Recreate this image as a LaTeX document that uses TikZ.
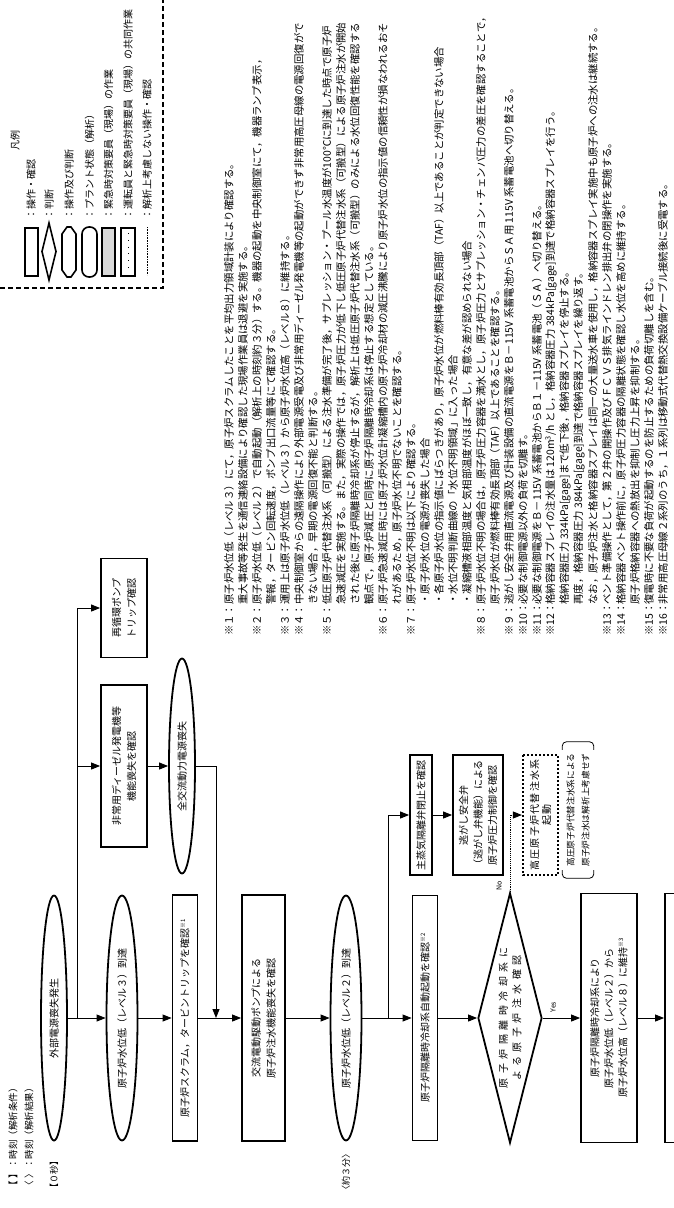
\documentclass[tikz,border=0pt]{standalone}
\usepackage{fontspec}
\setmainfont{Noto Sans CJK JP}
\newfontfamily\widejp[LetterSpace=45]{Noto Sans CJK JP}
\newfontfamily\spacedjp[LetterSpace=13]{Noto Sans CJK JP}
\usetikzlibrary{shapes.geometric,arrows.meta,calc}

\newcommand{\nt}[1]{\makebox[3em][l]{#1}}
\newcommand{\ind}{\hspace*{3em}}
\newcommand{\kome}[1]{\textsuperscript{\fontsize{6}{6}\selectfont ※#1}}

\begin{document}
\begin{tikzpicture}[x=1pt, y=-1pt, >={Triangle[length=9pt, width=7pt]},
    every node/.style={rotate=90, font=\fontsize{10}{15}\selectfont}]
  \tikzstyle{opbox}=[rectangle, draw, line width=1.8pt, align=center, inner sep=1pt]
  \tikzstyle{state}=[ellipse, draw, line width=1.8pt, align=center, inner sep=0pt]
  \tikzstyle{judge}=[diamond, draw, line width=1.8pt, align=center, aspect=3.9, inner sep=1pt]
  \tikzstyle{skipbox}=[rectangle, draw, line width=2.2pt, dash pattern=on 2.2pt off 1.8pt, align=center]
  \tikzstyle{flow}=[->, line width=0.9pt]
  \tikzstyle{tag}=[anchor=west, inner sep=0pt]
  \tikzstyle{note}=[anchor=west, inner sep=0pt, font=\fontsize{10.4}{14}\selectfont]
  \useasboundingbox (0,0) rectangle (674,1208);
  \clip (0,0) rectangle (674,1208);

  % legend
  \draw[line width=1.2pt, dash pattern=on 5pt off 3pt] (0,288) -- (163,288) -- (163,0);
  \node (lg) at (15,140) {凡例};
  \draw[line width=1.6pt] (25,228) rectangle (38,276);
  \draw[line width=1.6pt] (49,223) -- (56,251.5) -- (49,280) -- (42,251.5) -- cycle;
  \draw[line width=1.6pt] (62,234) -- (67,227) -- (71,227) -- (76,234) -- (76,270) -- (71,277) -- (67,277) -- (62,270) -- cycle;
  \draw[line width=1.6pt, rounded corners=7pt] (82,227) rectangle (97,277);
  \draw[line width=1.6pt, fill=gray!30] (102,228) rectangle (115,276);
  \draw[line width=1.6pt] (121,228) rectangle (135,276);
  \draw[line width=0.6pt, dash pattern=on 0.8pt off 6pt] (128,233) -- (128,272);
  \draw[line width=0.6pt, densely dotted] (147,227) -- (147,275);
  \foreach \x/\t [count=\i] in {31/{：操作・確認}, 49/{：判断}, 69/{：操作及び判断},
      89.5/{：プラント状態（解析）}, 108.5/{：緊急時対策要員（現場）の作業},
      128/{：運転員と緊急時対策要員（現場）の共同作業}, 147/{：解析上考慮しない操作・確認}}{
    \node[tag] (lg\i) at (\x,220) {\t};
  }

  % time marks
  \node[tag, font=\fontsize{9.5}{12}\selectfont] (tl1) at (13,1191) {【\,\,】：時刻（解析条件）};
  \node[tag, font=\fontsize{9.5}{12}\selectfont] (tl2) at (29,1191) {〈\,\,〉：時刻（解析結果）};
  \node[tag, font=\fontsize{9}{12}\selectfont] (t0) at (54,1193) {【０秒】};
  \node[tag, font=\fontsize{9}{12}\selectfont] (t3) at (346,1195) {〈約３分〉};

  % main sequence
  \node[state, minimum width=245pt, minimum height=26pt] (e1) at (54,1018) {外部電源喪失発生};
  \node[state, minimum width=245pt, minimum height=31pt] (e2) at (122,1018) {原子炉水位低（レベル３）到達};
  \node[opbox, minimum width=246pt, minimum height=25pt] (b1) at (185,1018) {原子炉スクラム，タービントリップを確認\kome{1}};
  \node[opbox, minimum width=246pt, minimum height=43pt] (b2) at (263.5,1018) {交流電動駆動ポンプによる\\原子炉注水機能喪失を確認};
  \node[state, minimum width=245pt, minimum height=31pt] (e3) at (346,1018) {原子炉水位低（レベル２）到達};
  \node[opbox, minimum width=245pt, minimum height=25pt] (b3) at (425,1018) {原子炉隔離時冷却系自動起動を確認\kome{2}};
  \node[judge, minimum width=250pt, minimum height=64pt, font=\widejp\fontsize{10}{13.5}\selectfont] (d) at (510,1018) {原子炉隔離時冷却系に\\よる原子炉注水確認};
  \node[opbox, minimum width=249pt, minimum height=56pt, font=\fontsize{10}{14}\selectfont] (b4) at (609,1018) {原子炉隔離時冷却系により\\原子炉水位低（レベル２）から\\原子炉水位高（レベル８）に維持\kome{3}};
  \node[opbox, minimum width=249pt, minimum height=56pt] (b5) at (693,1018) {};

  % branch after loss of offsite power
  \node[opbox, minimum width=99pt, minimum height=46pt] (r1) at (124,608) {再循環ポンプ\\トリップ確認};
  \node[opbox, minimum width=162pt, minimum height=46pt] (r2) at (124,766) {非常用ディーゼル発電機等\\機能喪失を確認};
  \node[state, minimum width=215pt, minimum height=26pt] (e4) at (182,766) {全交流動力電源喪失};

  % branch after level 2
  \node[opbox, minimum width=120pt, minimum height=22pt] (m1) at (421,815) {主蒸気隔離弁閉止を確認};
  \node[opbox, minimum width=120pt, minimum height=50pt, font=\fontsize{10}{14.5}\selectfont] (m2) at (478,815) {逃がし安全弁\\（逃がし弁機能）による\\原子炉圧力制御を確認};
  \node[skipbox, minimum width=120pt, minimum height=35pt, font=\spacedjp\fontsize{10}{12}\selectfont] (m3) at (540.5,815) {高圧原子炉代替注水系\\起動};
  \node[align=center, minimum width=136pt, minimum height=31pt, inner sep=0pt, font=\fontsize{8.7}{15}\selectfont] (bn) at (578,810) {高圧原子炉代替注水系による\\原子炉注水は解析上考慮せず};
  \draw[line width=0.8pt, rounded corners=4pt] ($(bn.north east)+(0,8)$) -- (bn.north east) -- (bn.south east) -- ($(bn.south east)+(0,8)$);
  \draw[line width=0.8pt, rounded corners=4pt] ($(bn.north west)+(0,-8)$) -- (bn.north west) -- (bn.south west) -- ($(bn.south west)+(0,-8)$);

  \coordinate (j1) at (77,1018);
  \coordinate (j2) at (216,1018);
  \coordinate (j3) at (388,1018);

  \draw[flow] (e1) -- (e2);
  \draw[flow] (e2) -- (b1);
  \draw[flow] (b1) -- (b2);
  \draw[flow] (b2) -- (e3);
  \draw[flow] (e3) -- (b3);
  \draw[flow] (b3) -- (d);
  \draw[flow] (d) -- (b4);
  \draw[flow] (b4) -- (b5);
  \draw[flow] (j1) |- (r1);
  \draw[flow] (j1) |- (r2);
  \draw[flow] (r2) -- (e4);
  \draw[flow] (e4) -| (j2);
  \draw[flow] (j3) |- (m1);
  \draw[flow] (m1) -- (m2);
  \draw[flow, densely dotted] (d) |- (m3);
  \node[font=\fontsize{7}{8}\selectfont] (yes) at (553,1007) {Yes};
  \node[font=\fontsize{7}{8}\selectfont] (no) at (499,886) {No};

  % notes
  \foreach \t [count=\i from 0] in {
    {\nt{※１：}原子炉水位低（レベル３）にて，原子炉スクラムしたことを平均出力領域計装により確認する。},
    {\ind 重大事故等発生を通信連絡設備により確認した現場作業員は退避を実施する。},
    {\nt{※２：}原子炉水位低（レベル２）で自動起動（解析上の時刻約３分）する。機器の起動を中央制御室にて，機器ランプ表示，},
    {\ind 警報，タービン回転速度，ポンプ出口流量等にて確認する。},
    {\nt{※３：}運用上は原子炉水位低（レベル３）から原子炉水位高（レベル８）に維持する。},
    {\nt{※４：}中央制御室からの遠隔操作により外部電源受電及び非常用ディーゼル発電機等の起動ができず非常用高圧母線の電源回復がで},
    {\ind きない場合，早期の電源回復不能と判断する。},
    {\nt{※５：}低圧原子炉代替注水系（可搬型）による注水準備が完了後，サプレッション・プール水温度が100℃に到達した時点で原子炉},
    {\ind 急速減圧を実施する。また，実際の操作では，原子炉圧力が低下し低圧原子炉代替注水系（可搬型）による原子炉注水が開始},
    {\ind された後に原子炉隔離時冷却系が停止するが，解析上は低圧原子炉代替注水系（可搬型）のみによる水位回復性能を確認する},
    {\ind 観点で，原子炉減圧と同時に原子炉隔離時冷却系は停止する想定としている。},
    {\nt{※６：}原子炉急速減圧時には原子炉水位計凝縮槽内の原子炉冷却材の減圧沸騰により原子炉水位の指示値の信頼性が損なわれるおそ},
    {\ind れがあるため，原子炉水位不明でないことを確認する。},
    {\nt{※７：}原子炉水位不明は以下により確認する。},
    {\ind ・原子炉水位の電源が喪失した場合},
    {\ind ・各原子炉水位の指示値にばらつきがあり，原子炉水位が燃料棒有効長頂部（TAF）以上であることが判定できない場合},
    {\ind ・水位不明判断曲線の「水位不明領域」に入った場合},
    {\ind ・凝縮槽液相部温度と気相部温度がほぼ一致し，有意な差が認められない場合},
    {\nt{※８：}原子炉水位不明の場合は，原子炉圧力容器を満水とし，原子炉圧力とサプレッション・チェンバ圧力の差圧を確認することで，},
    {\ind 原子炉水位が燃料棒有効長頂部（TAF）以上であることを確認する。},
    {\nt{※９：}逃がし安全弁用直流電源及び計装設備の直流電源をＢ－115V 系蓄電池からＳＡ用 115V 系蓄電池へ切り替える。},
    {\nt{※10：}必要な制御電源以外の負荷を切離す。},
    {\nt{※11：}必要な制御電源をＢ－115V 系蓄電池からＢ１－115V 系蓄電池（ＳＡ）へ切り替える。},
    {\nt{※12：}格納容器スプレイの注水量は 120m\textsuperscript{3}/h とし，格納容器圧力 384kPa[gage]到達で格納容器スプレイを行う。},
    {\ind 格納容器圧力 334kPa[gage]まで低下後，格納容器スプレイを停止する。},
    {\ind 再度，格納容器圧力 384kPa[gage]到達で格納容器スプレイを繰り返す。},
    {\ind なお，原子炉注水と格納容器スプレイは同一の大量送水車を使用し，格納容器スプレイ実施中も原子炉への注水は継続する。},
    {\nt{※13：}ベント準備操作として，第２弁の開操作及びＦＣＶＳ排気ラインドレン排出弁の閉操作を実施する。},
    {\nt{※14：}格納容器ベント操作前に，原子炉圧力容器の隔離状態を確認し水位を高めに維持する。},
    {\ind 原子炉格納容器への熱放出を抑制し圧力上昇を抑制する。},
    {\nt{※15：}復電時に不要な負荷が起動するのを防止するための負荷切離しを含む。},
    {\nt{※16：}非常用高圧母線２系列のうち，１系列は移動式代替熱交換設備ケーブル接続後に受電する。}}{
    \node[note] (n\i) at (229+14*\i,636) {\t};
  }
\end{tikzpicture}
\end{document}
